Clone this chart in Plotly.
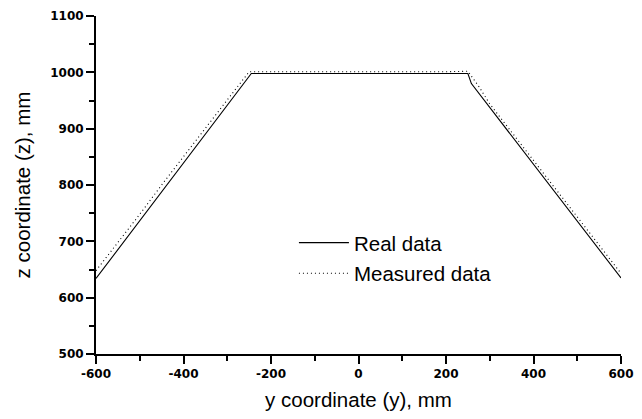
import plotly.graph_objects as go

real_y = [-600, -245, 250, 258, 600]
real_z = [634, 998, 998, 980, 635]

measured_y = [-600, -550, -500, -450, -400, -350, -300, -250, -200, -150, -100, -50, 0,
              50, 100, 150, 200, 250, 275, 300, 350, 400, 450, 500, 550, 600]
measured_z = [648, 697, 748, 800, 851, 901, 951, 1001, 1001, 1001, 1000, 1001, 1000,
              1001, 1001, 1001, 1001, 1002, 975, 944, 894, 844, 794, 744, 694, 643]

x_ticks = [-600, -400, -200, 0, 200, 400, 600]
x_labels = ["-600", "-400", "-200", "0", "200", "400", "600"]
y_ticks = [500, 600, 700, 800, 900, 1000, 1100]
y_labels = ["500", "600", "700", "800", "900", "1000", "1100"]

fig = go.Figure()
fig.add_trace(go.Scatter(x=real_y, y=real_z, mode="lines", name="Real data",
                         legendgroup="a",
                         line=dict(color="black", width=1.1)))
fig.add_trace(go.Scatter(x=measured_y, y=measured_z, mode="lines", name="Measured data",
                         legendgroup="b",
                         line=dict(color="black", width=1.1, dash="1px,3px")))

tick_font = dict(family="DejaVu Sans", size=12, color="black", weight="bold")
title_font = dict(family="Liberation Sans", size=20.5, color="black")

axis_common = dict(showgrid=False, zeroline=False, showline=True, linecolor="black",
                   linewidth=2, ticks="outside", tickwidth=2, ticklen=8, tickcolor="black",
                   tickfont=tick_font, mirror=False, automargin=False)

fig.update_xaxes(range=[-600, 600], tickvals=x_ticks, ticktext=x_labels,
                 minor=dict(dtick=100, ticks="outside", ticklen=5, tickwidth=1.5, tickcolor="black"),
                 title=dict(text="y coordinate (y), mm", font=title_font, standoff=12),
                 **axis_common)
fig.update_yaxes(range=[500, 1100], tickvals=y_ticks, ticktext=y_labels,
                 minor=dict(dtick=50, ticks="outside", ticklen=5, tickwidth=1.5, tickcolor="black"),
                 title=dict(text="z coordinate (z), mm", font=title_font, standoff=14),
                 **axis_common)

fig.update_layout(
    width=634, height=411,
    margin=dict(l=88, r=21, t=8, b=65),
    plot_bgcolor="white", paper_bgcolor="white",
    font=dict(family="Liberation Sans", color="black"),
    showlegend=True,
    legend=dict(x=0.377, y=0.283, xanchor="left", yanchor="middle",
                bgcolor="rgba(0,0,0,0)", font=dict(family="Liberation Sans", size=20.5, color="black"),
                tracegroupgap=1, itemwidth=50),
)

fig.write_html("out.html")
